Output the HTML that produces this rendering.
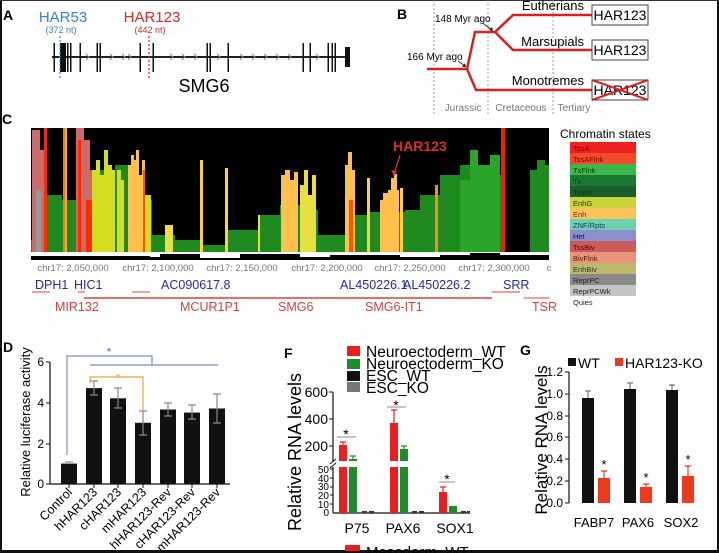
<!DOCTYPE html>
<html><head><meta charset="utf-8"><style>
html,body{margin:0;padding:0;background:#fff}
svg{display:block}
text{font-family:"Liberation Sans",sans-serif}
</style></head><body>
<svg width="719" height="553" viewBox="0 0 719 553" xmlns="http://www.w3.org/2000/svg">
<rect width="719" height="553" fill="#fff"/>
<rect x="0" y="0" width="2" height="553" fill="#111"/>
<rect x="717" y="0" width="2" height="553" fill="#111"/>
<rect x="0" y="550" width="719" height="3" fill="#111"/>
<rect x="0" y="0" width="719" height="1" fill="#333"/>

<!-- Panel A -->
<text x="3" y="20" font-size="14" font-weight="bold">A</text>
<text x="63" y="22" font-size="15" fill="#3b7fd0" text-anchor="middle">HAR53</text>
<text x="61" y="33" font-size="9" fill="#3b7fd0" text-anchor="middle">(372 nt)</text>
<text x="152" y="22" font-size="15" fill="#d62a2a" text-anchor="middle">HAR123</text>
<text x="150" y="33" font-size="9" fill="#d62a2a" text-anchor="middle">(442 nt)</text>
<line x1="52" y1="57" x2="350" y2="57" stroke="#222" stroke-width="2"/>
<g fill="none" stroke="#888" stroke-width="1">
<path d="M110 54l3 3-3 3M122 54l3 3-3 3M170 54l3 3-3 3M182 54l3 3-3 3M194 54l3 3-3 3M240 54l3 3-3 3M252 54l3 3-3 3M264 54l3 3-3 3M276 54l3 3-3 3M288 54l3 3-3 3M128 54l3 3-3 3M86 54l3 3-3 3M217 54l3 3-3 3M316 54l3 3-3 3"/>
</g>
<g fill="#111">
<rect x="60" y="43" width="6" height="29"/>
<rect x="53.5" y="43" width="1.5" height="29"/><rect x="67" y="43" width="1.5" height="29"/><rect x="70" y="43" width="1.5" height="29"/>
<rect x="79.5" y="43" width="1.5" height="29"/><rect x="96.5" y="43" width="1.5" height="29"/><rect x="99.5" y="43" width="1.5" height="29"/>
<rect x="139.5" y="43" width="1.5" height="29"/><rect x="152.5" y="43" width="1.5" height="29"/>
<rect x="206.5" y="43" width="1.5" height="29"/><rect x="209.5" y="43" width="1.5" height="29"/><rect x="227.5" y="43" width="1.5" height="29"/>
<rect x="302.5" y="43" width="1.5" height="29"/><rect x="309.5" y="43" width="1.5" height="29"/><rect x="327.5" y="43" width="1.5" height="29"/>
<rect x="331.5" y="43" width="1.5" height="29"/><rect x="334.5" y="43" width="1.5" height="29"/>
<rect x="345" y="47" width="5" height="20"/>
</g>
<line x1="60" y1="36" x2="60" y2="80" stroke="#3b7fd0" stroke-width="1.2" stroke-dasharray="2,2"/>
<line x1="149" y1="36" x2="149" y2="80" stroke="#d62a2a" stroke-width="1.2" stroke-dasharray="2,2"/>
<text x="204" y="92" font-size="18" text-anchor="middle">SMG6</text>

<!-- Panel B -->
<text x="397" y="19" font-size="14" font-weight="bold">B</text>
<g stroke="#888" stroke-width="0.8" stroke-dasharray="2,2">
<line x1="434" y1="0" x2="434" y2="116"/><line x1="488" y1="0" x2="488" y2="116"/><line x1="553" y1="0" x2="553" y2="116"/>
</g>
<g fill="none" stroke="#d92020" stroke-width="2.5">
<path d="M427 69H467L475 32H495L513 15H592"/>
<path d="M495 32L513 50H592"/>
<path d="M467 69L476 90H592"/>
</g>
<text x="435" y="22" font-size="10">148 Myr ago</text>
<path d="M484 24L492 30" stroke="#222" stroke-width="1"/><path d="M489 30l4 1-1-4z" fill="#222"/>
<text x="407" y="60" font-size="10">166 Myr ago</text>
<path d="M458 61L465 66" stroke="#222" stroke-width="1"/><path d="M462 67l4 0-1-4z" fill="#222"/>
<text x="584" y="10" font-size="13" text-anchor="end">Eutherians</text>
<text x="584" y="46" font-size="13" text-anchor="end">Marsupials</text>
<text x="584" y="85" font-size="13" text-anchor="end">Monotremes</text>
<g fill="#fff" stroke="#444" stroke-width="1">
<rect x="592" y="5" width="56" height="20"/><rect x="592" y="40" width="56" height="20"/><rect x="592" y="80" width="56" height="20"/>
</g>
<text x="620" y="20" font-size="14" text-anchor="middle">HAR123</text>
<text x="620" y="55" font-size="14" text-anchor="middle">HAR123</text>
<text x="620" y="95" font-size="14" text-anchor="middle">HAR123</text>
<path d="M592 80L648 100M648 80L592 100" stroke="#d92020" stroke-width="2"/>
<g font-size="10" fill="#777" text-anchor="middle">
<text x="463" y="111">Jurassic</text><text x="521" y="111">Cretaceous</text><text x="574" y="111">Tertiary</text>
</g>

<!-- Panel C -->
<text x="2" y="124" font-size="14" font-weight="bold">C</text>
<rect x="31" y="128" width="518" height="124" fill="#000"/>
<path fill="#1f8a1f" d="M31 252V240H47V195H62V200H72V200H92V170H115V165H130V200H152V235H175V240H200V245H225V230H258V215H280V205H300V210H318V235H345V215H370V212H405V210H420V195H440V175H460V165H500V175H503V252Z"/>
<path fill="#1f8a1f" d="M530 252V170H537V160H545V165H549V252Z"/>
<path fill="#2aa52a" d="M460 252V180H470V150H478V165H490V155H500V252Z"/>
<path fill="#cd6a6a" d="M32 252V130H40V150H44V252Z"/>
<rect x="36" y="190" width="5" height="62" fill="#999"/>
<path fill="#cd6a6a" d="M76 252V128H84V140H90V170H92V252Z"/>
<rect x="44" y="128" width="3" height="124" fill="#ff2a00"/>
<rect x="63" y="128" width="3" height="124" fill="#ff7a00"/>
<rect x="65" y="128" width="2" height="124" fill="#ffb040"/>
<rect x="78" y="140" width="3" height="112" fill="#ff2a00"/>
<rect x="86" y="200" width="6" height="52" fill="#ff2a00"/>
<rect x="501" y="128" width="4" height="124" fill="#ff1a00"/>
<path fill="#d4de20" d="M92 252V170H96V160H100V175H104V150H108V165H112V170H115V252Z"/>
<path fill="#ffc04d" d="M128 252V165H131V155H134V160H136V150H139V175H142V160H145V252Z"/>
<rect x="143" y="170" width="2" height="82" fill="#ff5500"/>
<path fill="#d4de20" d="M117 252V170H121V180H124V252Z"/>
<rect x="145" y="195" width="6" height="57" fill="#d4de20"/>
<rect x="165" y="225" width="8" height="27" fill="#e8e040"/>
<rect x="200" y="160" width="3" height="92" fill="#ffd040"/>
<rect x="225" y="168" width="3" height="84" fill="#ffd040"/>
<rect x="258" y="215" width="2" height="37" fill="#e8e040"/>
<path fill="#ffc04d" d="M281 252V175H285V170H290V180H294V172H298V252Z"/>
<path fill="#e8e040" d="M300 252V185H304V170H308V195H312V175H316V252Z"/>
<path fill="#ffc04d" d="M345 252V165H348V152H352V170H355V252Z"/>
<rect x="349" y="200" width="4" height="52" fill="#ff5500"/>
<rect x="367" y="178" width="3" height="74" fill="#ffd040"/>
<path fill="#ffc04d" d="M380 252V200H383V193H388V190H391V178H394V174H397V190H399V252Z"/>
<rect x="400" y="188" width="3" height="64" fill="#ffd040"/>
<rect x="435" y="185" width="3" height="67" fill="#ff8a20"/>
<rect x="31" y="252" width="518" height="4" fill="#fff"/>
<path fill="#000" d="M31 260V256H150V257H160V254H200V258H240V254H300V257H330V255H400V257H440V255H470V253H500V255H549V260Z"/>
<text x="393" y="151" font-size="14" font-weight="bold" fill="#d83030">HAR123</text>
<path d="M400 155L394 174" stroke="#d83030" stroke-width="1.3"/><path d="M391 170l3 6 3-5z" fill="#d83030"/>
<g font-size="9.5" fill="#777" text-anchor="middle">
<text x="73" y="271">chr17: 2,050,000</text><text x="158" y="271">chr17: 2,100,000</text><text x="242" y="271">chr17: 2,150,000</text>
<text x="327" y="271">chr17: 2,200,000</text><text x="410" y="271">chr17: 2,250,000</text><text x="494" y="271">chr17: 2,300,000</text>
<text x="549" y="271">c</text>
</g>
<g font-size="12.5" fill="#2a2aa0">
<text x="35" y="289">DPH1</text><text x="74" y="289">HIC1</text><text x="161" y="289">AC090617.8</text>
<text x="340" y="289">AL450226.1</text><text x="403" y="289">AL450226.2</text><text x="503" y="289">SRR</text>
</g>
<g stroke="#d84040" stroke-width="1">
<line x1="32" y1="292" x2="50" y2="292"/><line x1="78" y1="292" x2="85" y2="292"/><line x1="132" y1="292" x2="150" y2="292"/>
<line x1="84" y1="298" x2="492" y2="298" stroke-width="1.5"/><line x1="492" y1="292" x2="520" y2="292"/><line x1="524" y1="298" x2="549" y2="298"/>
</g>
<g font-size="12.5" fill="#d84040">
<text x="55" y="311">MIR132</text><text x="180" y="311">MCUR1P1</text><text x="278" y="311">SMG6</text><text x="365" y="311">SMG6-IT1</text><text x="532" y="311">TSR</text>
</g>
<text x="560" y="138" font-size="12">Chromatin states</text>
<g>
<rect x="570" y="142" width="66" height="11" fill="#ee2020"/>
<rect x="570" y="153" width="66" height="11" fill="#f04a28"/>
<rect x="570" y="164" width="66" height="11" fill="#3cb84a"/>
<rect x="570" y="175" width="66" height="11" fill="#1a7a34"/>
<rect x="570" y="186" width="66" height="11" fill="#1a5e30"/>
<rect x="570" y="197" width="66" height="11" fill="#c8d43a"/>
<rect x="570" y="208" width="66" height="11" fill="#fcc35c"/>
<rect x="570" y="219" width="66" height="11" fill="#6fd0b0"/>
<rect x="570" y="230" width="66" height="11" fill="#8b90cc"/>
<rect x="570" y="241" width="66" height="11" fill="#cc5a5a"/>
<rect x="570" y="252" width="66" height="11" fill="#e8957c"/>
<rect x="570" y="263" width="66" height="11" fill="#bdb86a"/>
<rect x="570" y="274" width="66" height="11" fill="#8a8a8a"/>
<rect x="570" y="285" width="66" height="11" fill="#c4c4c4"/>
</g>
<g font-size="7.5">
<text x="573" y="151" fill="#7a0000">TssA</text><text x="573" y="162" fill="#7a0000">TssAFlnk</text><text x="573" y="173" fill="#0a3a0a">TxFlnk</text>
<text x="573" y="184" fill="#0a3a0a">Tx</text><text x="573" y="195" fill="#0a3a0a">TxWk</text><text x="573" y="206" fill="#333">EnhG</text>
<text x="573" y="217" fill="#5a3a00">Enh</text><text x="573" y="228" fill="#0a3a5a">ZNF/Rpts</text><text x="573" y="239" fill="#0a0a5a">Het</text>
<text x="573" y="250" fill="#5a0000">TssBiv</text><text x="573" y="261" fill="#5a1a00">BivFlnk</text><text x="573" y="272" fill="#333">EnhBiv</text>
<text x="573" y="283" fill="#222">ReprPC</text><text x="573" y="294" fill="#222">ReprPCWk</text><text x="573" y="305" fill="#222">Quies</text>
</g>

<!-- Panel D -->
<text x="3" y="352" font-size="14" font-weight="bold">D</text>
<text transform="translate(30,422) rotate(-90)" font-size="13" text-anchor="middle">Relative luciferase activity</text>
<line x1="50" y1="362" x2="50" y2="484" stroke="#111" stroke-width="1.2"/>
<line x1="50" y1="484" x2="230" y2="484" stroke="#111" stroke-width="1.2"/>
<g stroke="#111"><line x1="46" y1="362" x2="50" y2="362"/><line x1="46" y1="403" x2="50" y2="403"/><line x1="46" y1="444" x2="50" y2="444"/><line x1="46" y1="484" x2="50" y2="484"/></g>
<g font-size="12" text-anchor="end"><text x="44" y="366">6</text><text x="44" y="407">4</text><text x="44" y="448">2</text><text x="44" y="488">0</text></g>
<g fill="#111">
<rect x="61" y="463.6" width="16" height="20.4"/>
<rect x="86" y="388.1" width="16" height="95.9"/>
<rect x="110" y="398.3" width="16" height="85.7"/>
<rect x="135" y="422.8" width="16" height="61.2"/>
<rect x="160" y="409.5" width="16" height="74.5"/>
<rect x="184" y="412.6" width="16" height="71.4"/>
<rect x="209" y="408.5" width="16" height="75.5"/>
</g>
<g stroke="#888" stroke-width="1.2">
<path d="M94 381V395M90 381H98M90 395H98"/>
<path d="M118 388V408M114 388H122M114 408H122"/>
<path d="M143 411V435M139 411H147M139 435H147"/>
<path d="M168 403V416M164 403H172M164 416H172"/>
<path d="M192 405V419M188 405H196M188 419H196"/>
<path d="M217 394V423M213 394H221M213 423H221"/>
<path d="M65 462H73"/>
</g>
<g stroke="#111"><line x1="69" y1="484" x2="69" y2="488"/><line x1="94" y1="484" x2="94" y2="488"/><line x1="118" y1="484" x2="118" y2="488"/><line x1="143" y1="484" x2="143" y2="488"/><line x1="168" y1="484" x2="168" y2="488"/><line x1="192" y1="484" x2="192" y2="488"/><line x1="217" y1="484" x2="217" y2="488"/></g>
<g font-size="12.5" text-anchor="end">
<text transform="translate(73,493) rotate(-45)">Control</text>
<text transform="translate(98,493) rotate(-45)">hHAR123</text>
<text transform="translate(122,493) rotate(-45)">cHAR123</text>
<text transform="translate(147,493) rotate(-45)">mHAR123</text>
<text transform="translate(172,493) rotate(-45)">hHAR123-Rev</text>
<text transform="translate(196,493) rotate(-45)">cHAR123-Rev</text>
<text transform="translate(221,493) rotate(-45)">mHAR123-Rev</text>
</g>
<g fill="none" stroke="#7f8fcc" stroke-width="1.2">
<path d="M67 455V356H152V365"/><path d="M90 365H218"/>
</g>
<text x="109" y="356" font-size="12" fill="#5a6acc" text-anchor="middle">*</text>
<g fill="none" stroke="#f0a040" stroke-width="1.2"><path d="M90 383V377H143V411"/></g>
<text x="118" y="382" font-size="12" fill="#f0a040" text-anchor="middle">*</text>

<!-- Panel F -->
<text x="284" y="358" font-size="14" font-weight="bold">F</text>
<rect x="347" y="346" width="13" height="10" fill="#ee1c1c"/>
<rect x="347" y="359" width="13" height="10" fill="#1e8c28"/>
<rect x="347" y="371" width="13" height="10" fill="#111"/>
<rect x="347" y="382" width="13" height="10" fill="#777"/>
<g font-size="15.5">
<text x="366" y="357">Neuroectoderm_WT</text><text x="366" y="369">Neuroectoderm_KO</text><text x="366" y="381">ESC_WT</text><text x="366" y="393">ESC_KO</text>
</g>
<text transform="translate(301,452) rotate(-90)" font-size="18" text-anchor="middle">Relative RNA levels</text>
<line x1="333" y1="392" x2="333" y2="461" stroke="#111" stroke-width="1.2"/>
<line x1="333" y1="467" x2="333" y2="513" stroke="#111" stroke-width="1.2"/>
<path d="M330 464L336 459M330 468L336 463" stroke="#111"/>
<line x1="333" y1="513" x2="470" y2="513" stroke="#111" stroke-width="1.2"/>
<g stroke="#111"><line x1="329" y1="392" x2="333" y2="392"/><line x1="329" y1="419" x2="333" y2="419"/><line x1="329" y1="446" x2="333" y2="446"/>
<line x1="330" y1="469" x2="333" y2="469"/><line x1="330" y1="478" x2="333" y2="478"/><line x1="330" y1="487" x2="333" y2="487"/><line x1="330" y1="495" x2="333" y2="495"/><line x1="330" y1="504" x2="333" y2="504"/></g>
<g font-size="14" text-anchor="end"><text x="328" y="397">600</text><text x="328" y="424">400</text><text x="328" y="451">200</text></g>
<g font-size="10" text-anchor="end"><text x="329" y="473">50</text><text x="329" y="482">40</text><text x="329" y="490">30</text><text x="329" y="499">20</text><text x="329" y="508">10</text><text x="329" y="516">0</text></g>
<g fill="#ee1c1c">
<rect x="339" y="445" width="8" height="16"/><rect x="339" y="467" width="8" height="46"/>
<rect x="390" y="423" width="8" height="38"/><rect x="390" y="467" width="8" height="46"/>
<rect x="439" y="492" width="8" height="21"/>
</g>
<g fill="#1e8c28">
<rect x="349" y="459" width="8" height="2"/><rect x="349" y="467" width="8" height="46"/>
<rect x="400" y="449" width="8" height="12"/><rect x="400" y="467" width="8" height="46"/>
<rect x="449" y="506" width="8" height="7"/>
</g>
<g stroke="#ee1c1c" stroke-width="1.2"><path d="M343 442V445M340 442H346"/><path d="M394 410V423M391 410H397"/><path d="M443 487V492M440 487H446"/></g>
<g stroke="#1e8c28" stroke-width="1.2"><path d="M353 456V459M350 456H356"/><path d="M404 446V449M401 446H407"/></g>
<g fill="#333"><rect x="362" y="511" width="5" height="2"/><rect x="369" y="511" width="5" height="2"/><rect x="412" y="511" width="5" height="2"/><rect x="419" y="511" width="5" height="2"/><rect x="461" y="511" width="5" height="2"/><rect x="467" y="511" width="3" height="2"/></g>
<g stroke="#888"><line x1="337" y1="437" x2="356" y2="437"/><line x1="387" y1="407" x2="406" y2="407"/><line x1="439" y1="482" x2="455" y2="482"/></g>
<g font-size="14" text-anchor="middle"><text x="346" y="439">*</text><text x="396" y="410">*</text><text x="447" y="484">*</text></g>
<g font-size="14" text-anchor="middle"><text x="357" y="533">P75</text><text x="403" y="533">PAX6</text><text x="455" y="533">SOX1</text></g>
<rect x="345" y="545" width="15" height="6" fill="#ee1c1c"/>
<text x="366" y="557" font-size="15">Mesoderm_WT</text>

<!-- Panel G -->
<text x="520" y="355" font-size="14" font-weight="bold">G</text>
<rect x="568" y="358" width="8" height="8" fill="#111"/><text x="578" y="368" font-size="14">WT</text>
<rect x="615" y="358" width="8" height="8" fill="#ee3a1c"/><text x="625" y="368" font-size="14">HAR123-KO</text>
<text transform="translate(547,440) rotate(-90)" font-size="17" text-anchor="middle">Relative RNA levels</text>
<line x1="569" y1="372" x2="569" y2="503" stroke="#111" stroke-width="1.2"/>
<g stroke="#111"><line x1="565" y1="372" x2="569" y2="372"/><line x1="565" y1="394" x2="569" y2="394"/><line x1="565" y1="416" x2="569" y2="416"/><line x1="565" y1="437" x2="569" y2="437"/><line x1="565" y1="459" x2="569" y2="459"/><line x1="565" y1="481" x2="569" y2="481"/><line x1="565" y1="503" x2="569" y2="503"/></g>
<g font-size="12" text-anchor="end"><text x="563" y="376">1.2</text><text x="563" y="398">1.0</text><text x="563" y="420">0.8</text><text x="563" y="441">0.6</text><text x="563" y="463">0.4</text><text x="563" y="485">0.2</text><text x="563" y="507">0.0</text></g>
<g fill="#111">
<rect x="582" y="398" width="12" height="105"/><rect x="624" y="389" width="12" height="114"/><rect x="666" y="390" width="12" height="113"/>
</g>
<g fill="#ee3a1c">
<rect x="598" y="478" width="12" height="25"/><rect x="640" y="487" width="12" height="16"/><rect x="682" y="476" width="12" height="27"/>
</g>
<g stroke="#777" stroke-width="1.2"><path d="M588 391V398M585 391H591"/><path d="M630 383V389M627 383H633"/><path d="M672 385V390M669 385H675"/></g>
<g stroke="#ee3a1c" stroke-width="1.2"><path d="M604 471V478M601 471H607"/><path d="M646 484V487M643 484H649"/><path d="M688 466V476M685 466H691"/></g>
<g font-size="13" text-anchor="middle"><text x="604" y="469">*</text><text x="646" y="482">*</text><text x="688" y="464">*</text></g>
<g font-size="13" text-anchor="middle"><text x="594" y="527">FABP7</text><text x="638" y="527">PAX6</text><text x="681" y="527">SOX2</text></g>
</svg>
</body></html>
